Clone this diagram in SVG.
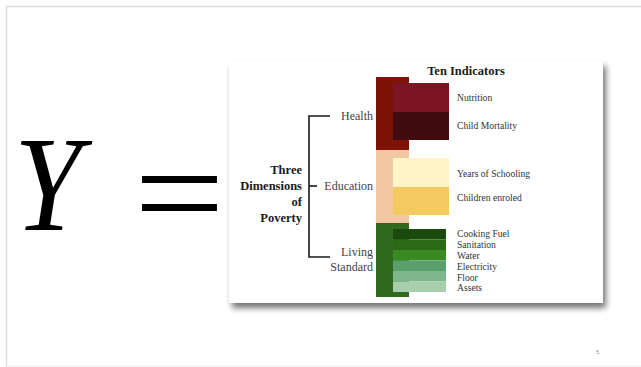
<svg xmlns="http://www.w3.org/2000/svg" width="641" height="367" viewBox="0 0 641 367">
  <style>
    .lbl { font-family: "Liberation Serif", "DejaVu Serif", serif; font-size: 9.6px; fill: #333333; }
    .dim { font-family: "Liberation Serif", "DejaVu Serif", serif; font-size: 12px; fill: #444444; }
    .bold { font-family: "Liberation Serif", "DejaVu Serif", serif; font-size: 12.5px; font-weight: bold; fill: #1a1a1a; }
    .brk { stroke: #1a1a1a; stroke-width: 1.6; fill: none; }
  </style>
  <defs>
    <filter id="shadow" x="-10%" y="-10%" width="125%" height="130%">
      <feGaussianBlur in="SourceAlpha" stdDeviation="3"/>
      <feOffset dx="3" dy="5" result="b"/>
      <feComponentTransfer><feFuncA type="linear" slope="0.55"/></feComponentTransfer>
      <feMerge><feMergeNode/><feMergeNode in="SourceGraphic"/></feMerge>
    </filter>
  </defs>

  <!-- slide background and frame -->
  <rect x="0" y="0" width="641" height="367" fill="#ffffff"/>
  <line x1="6" y1="6.5" x2="641" y2="6.5" stroke="#dddddd" stroke-width="1.5"/>
  <line x1="6.5" y1="6" x2="6.5" y2="367" stroke="#dddddd" stroke-width="1.5"/>
  <line x1="6" y1="366" x2="641" y2="366" stroke="#eeeeee" stroke-width="1"/>

  <!-- equation -->
  <g id="equation">
    <text transform="translate(14,230) scale(0.9,1)" font-family="Liberation Serif, serif" font-style="italic" font-size="135" fill="#000000">Y</text>
    <text transform="translate(134,240) scale(1.15,1)" font-family="Liberation Serif, serif" font-size="140" fill="#000000">=</text>
  </g>

  <!-- inset panel -->
  <g id="panel">
    <rect x="229" y="61" width="374" height="242" fill="#ffffff" filter="url(#shadow)"/>
  </g>

  <text class="bold" x="466" y="75" text-anchor="middle" font-size="13.5">Ten Indicators</text>

  <!-- dimension label with bracket -->
  <g id="dimensions">
    <text class="bold" text-anchor="end"><tspan x="302" y="174">Three</tspan><tspan x="302" y="190">Dimensions</tspan><tspan x="302" y="205.5">of</tspan><tspan x="302" y="221.5">Poverty</tspan></text>
  </g>
  <g id="connectors">
    <path class="brk" d="M330,116 H309 V257 H330"/>
    <path class="brk" d="M309,186 H317"/>
  </g>

  <!-- health -->
  <g id="health">
    <text class="dim" x="373" y="120" text-anchor="end">Health</text>
    <rect x="376" y="77" width="33" height="73" fill="#7d1206"/>
    <rect x="393" y="83" width="56" height="29" fill="#7b1523"/>
    <rect x="393" y="112" width="56" height="28" fill="#420b0f"/>
    <text class="lbl" x="457" y="101">Nutrition</text>
    <text class="lbl" x="457" y="129">Child Mortality</text>
  </g>

  <!-- education -->
  <g id="education">
    <text class="dim" x="373" y="190" text-anchor="end">Education</text>
    <rect x="376" y="150" width="33" height="73" fill="#f3c7a1"/>
    <rect x="393" y="158" width="56" height="29" fill="#fff4c6"/>
    <rect x="393" y="187" width="56" height="28" fill="#f4c95f"/>
    <text class="lbl" x="457" y="177">Years of Schooling</text>
    <text class="lbl" x="457" y="201">Children enroled</text>
  </g>

  <!-- living standard -->
  <g id="living">
    <text class="dim" x="373" y="256" text-anchor="end">Living</text>
    <text class="dim" x="373" y="271" text-anchor="end">Standard</text>
    <rect x="376" y="223" width="33" height="74" fill="#2f6a1f"/>
    <rect x="393" y="229" width="53" height="10.5" fill="#1b4a0f"/>
    <rect x="393" y="239.5" width="53" height="10.5" fill="#2a6a16"/>
    <rect x="393" y="250" width="53" height="10.5" fill="#3a8a24"/>
    <rect x="393" y="260.5" width="53" height="10.5" fill="#5a9f6c"/>
    <rect x="393" y="271" width="53" height="10.5" fill="#7fb78c"/>
    <rect x="393" y="281.5" width="53" height="10.5" fill="#a8cfab"/>
    <text class="lbl" x="457" y="236.5">Cooking Fuel</text>
    <text class="lbl" x="457" y="247.5">Sanitation</text>
    <text class="lbl" x="457" y="258.5">Water</text>
    <text class="lbl" x="457" y="269.5">Electricity</text>
    <text class="lbl" x="457" y="280.5">Floor</text>
    <text class="lbl" x="457" y="290.5">Assets</text>
  </g>

  <text x="596" y="354" font-family="Liberation Sans, sans-serif" font-size="6" fill="#999999">5</text>
</svg>
